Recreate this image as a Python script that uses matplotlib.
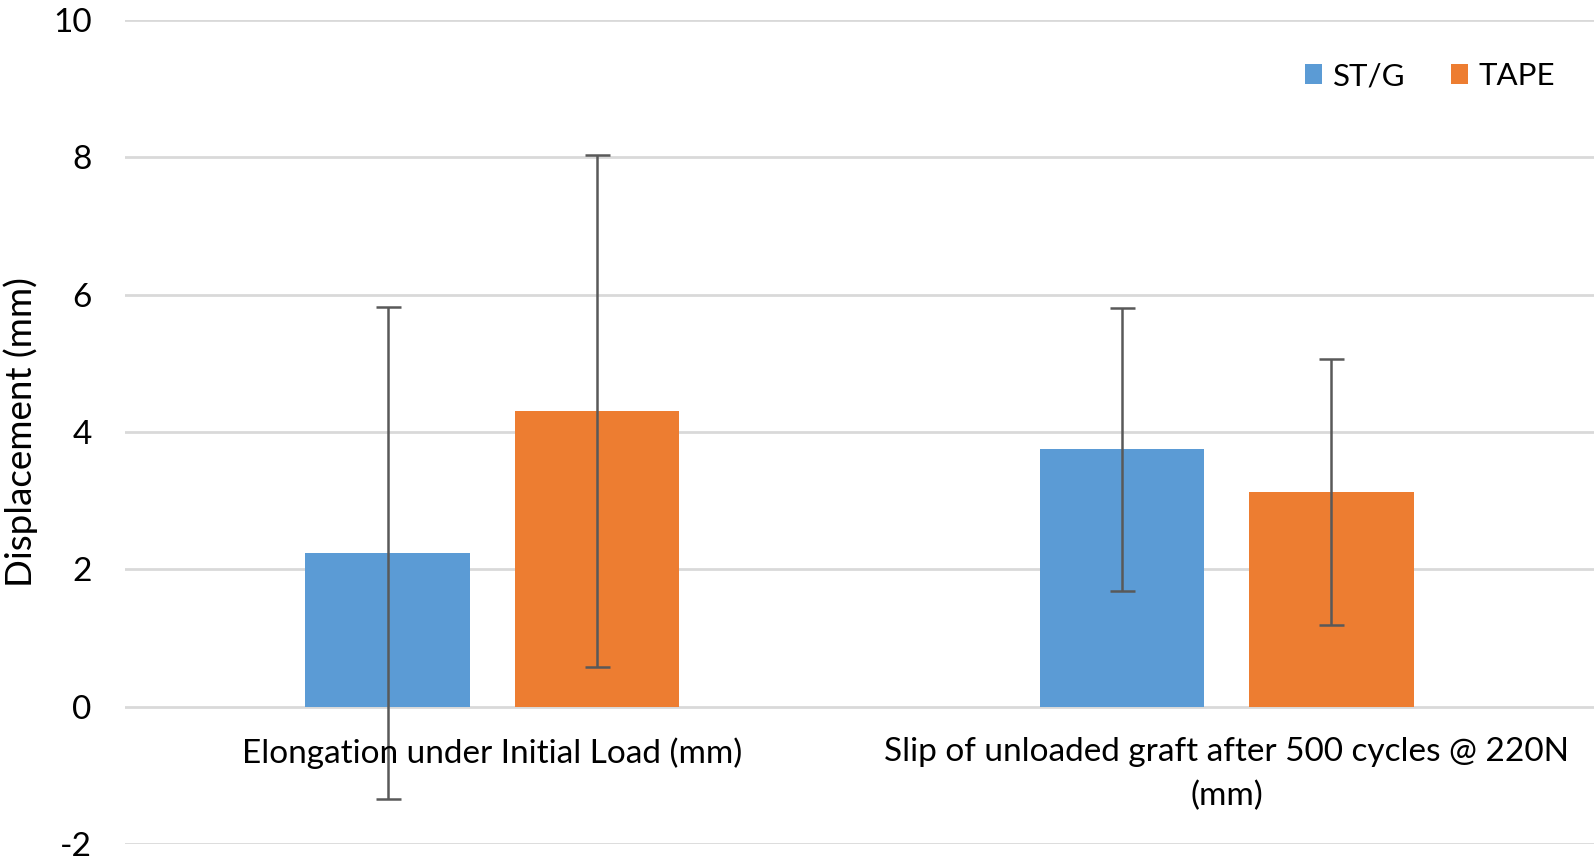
import matplotlib
matplotlib.use("Agg")
import matplotlib.pyplot as plt
import numpy as np

categories = ["Elongation under Initial Load (mm)",
              "Slip of unloaded graft after 500 cycles @ 220N\n(mm)"]
series_names = ["ST/G", "TAPE"]
stg_values = [2.24, 3.75]
tape_values = [4.31, 3.13]
stg_err = [3.58, 2.06]
tape_err = [3.73, 1.94]
yticks = [-2, 0, 2, 4, 6, 8, 10]

FONT = "Lato"
plt.rcParams['font.family'] = [FONT, 'DejaVu Sans']
FS = 24

fig = plt.figure(figsize=(15.94, 8.66), dpi=100)
ax = fig.add_axes([125/1594, 1 - 844/866, (1594-125)/1594, (844-20)/866])

x = np.arange(len(categories))
w = 0.224
off = 0.1426
blue = "#5B9BD5"
orange = "#ED7D31"
errc = "#595959"

ax.bar(x - off, stg_values, w, color=blue, label=series_names[0], zorder=2)
ax.bar(x + off, tape_values, w, color=orange, label=series_names[1], zorder=2)
ax.errorbar(x - off, stg_values, yerr=stg_err, fmt='none', ecolor=errc,
            elinewidth=1.8, capsize=9, capthick=1.8, zorder=3)
ax.errorbar(x + off, tape_values, yerr=tape_err, fmt='none', ecolor=errc,
            elinewidth=1.8, capsize=9, capthick=1.8, zorder=3)

ax.set_xlim(-0.5, 1.5)
ax.set_ylim(-2, 10)
ax.set_yticks(yticks)
ax.set_yticklabels([str(t) for t in yticks])
ax.yaxis.grid(True, color="#D9D9D9", linewidth=2, zorder=0)
ax.set_axisbelow(True)
for s in ax.spines.values():
    s.set_visible(False)
ax.tick_params(axis='y', length=0, pad=24, labelsize=FS)
ax.set_xticks([])

for xi, lab in zip(x, categories):
    ax.annotate(lab, xy=(xi, 0), xycoords='data', xytext=(0, -22),
                textcoords='offset points', ha='center', va='top',
                fontsize=FS, linespacing=1.55, zorder=4)

fig.text(21/1594, 1 - 432/866, "Displacement (mm)", rotation=90,
         ha='center', va='center', fontsize=26.5)

leg = ax.legend(loc='upper right', bbox_to_anchor=(0.993, 0.983), ncol=2,
                frameon=False, fontsize=22.5, handlelength=0.55, handleheight=0.6,
                handletextpad=0.35, columnspacing=1.45)

fig.savefig("out.png", dpi=100)
